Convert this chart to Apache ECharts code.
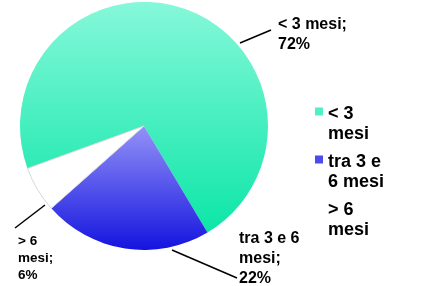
<!DOCTYPE html>
<html>
<head>
<meta charset="utf-8">
<script src="https://cdn.jsdelivr.net/npm/echarts@6/dist/echarts.min.js"></script>
<style>
html,body{margin:0;padding:0;background:#fff;}
#chart{width:436px;height:286px;}
</style>
</head>
<body>
<div id="chart"></div>
<script>
// ---- data ----
var categories = ['< 3 mesi', 'tra 3 e 6 mesi', '> 6 mesi'];
var values = [72, 22, 6];
var labelNames = ['< 3 mesi', 'tra 3 e 6\nmesi', '> 6\nmesi'];
var legendNames = ['< 3\nmesi', 'tra 3 e\n6 mesi', '> 6\nmesi'];

// ---- styles ----
var FONT = '"Liberation Sans", Arial, sans-serif';
var sliceFills = [
  {type:'linear', x:0, y:0, x2:0, y2:1, colorStops:[{offset:0,color:'#86f8da'},{offset:1,color:'#0ce6a6'}]},
  {type:'linear', x:0, y:0, x2:0, y2:1, colorStops:[{offset:0,color:'#9392f8'},{offset:1,color:'#1414df'}]},
  '#ffffff'
];
var legendColors = ['#50efc6', '#4a4af0', 'rgba(255,255,255,0)'];
var labelStyles = [
  {fontSize:16, lineHeight:20},
  {fontSize:16, lineHeight:20},
  {fontSize:13.5, lineHeight:17}
];
var labelLayouts = [
  {x:278, y:15, lines:[[240,43],[271,30]]},
  {x:239, y:229, lines:[[172,250],[237,278]]},
  {x:18, y:233, lines:[[45,205],[15,228]]}
];

var seriesData = categories.map(function(c, i){
  return {
    name: c,
    value: values[i],
    itemStyle: i === 2 ? {color: sliceFills[i], borderColor:'#d8d8d8', borderWidth:1} : {color: sliceFills[i]},
    label: labelStyles[i]
  };
});

var chart = echarts.init(document.getElementById('chart'), null, {renderer:'canvas'});
chart.setOption({
  backgroundColor:'#ffffff',
  animation:false,
  legend:{
    orient:'vertical',
    left:315,
    top:104,
    padding:0,
    itemWidth:8,
    itemHeight:40,
    itemGap:8,
    icon:'path://M0,7L8,7L8,15L0,15ZM0,40L8,40',
    selectedMode:false,
    itemStyle:{borderWidth:0},
    formatter:function(name){ return legendNames[categories.indexOf(name)]; },
    textStyle:{fontFamily:FONT, fontWeight:'bold', fontSize:18, lineHeight:20, color:'#000', padding:[0,0,0,0]},
    data: categories.map(function(c, i){ return {name:c, itemStyle:{color:legendColors[i], borderWidth:0}}; })
  },
  series:[{
    type:'pie',
    center:[144,126],
    radius:[0,124],
    startAngle:200,
    clockwise:true,
    avoidLabelOverlap:false,
    silent:true,
    data:seriesData,
    label:{
      show:true,
      position:'outside',
      fontFamily:FONT,
      fontWeight:'bold',
      color:'#000',
      align:'left',
      formatter:function(p){ return labelNames[p.dataIndex] + ';\n' + values[p.dataIndex] + '%'; }
    },
    labelLine:{show:true, length:10, length2:10, lineStyle:{color:'#000', width:1.5}},
    labelLayout:function(p){
      var l = labelLayouts[p.dataIndex];
      return {x:l.x, y:l.y, align:'left', verticalAlign:'top', labelLinePoints:l.lines};
    }
  }]
});
</script>
</body>
</html>
